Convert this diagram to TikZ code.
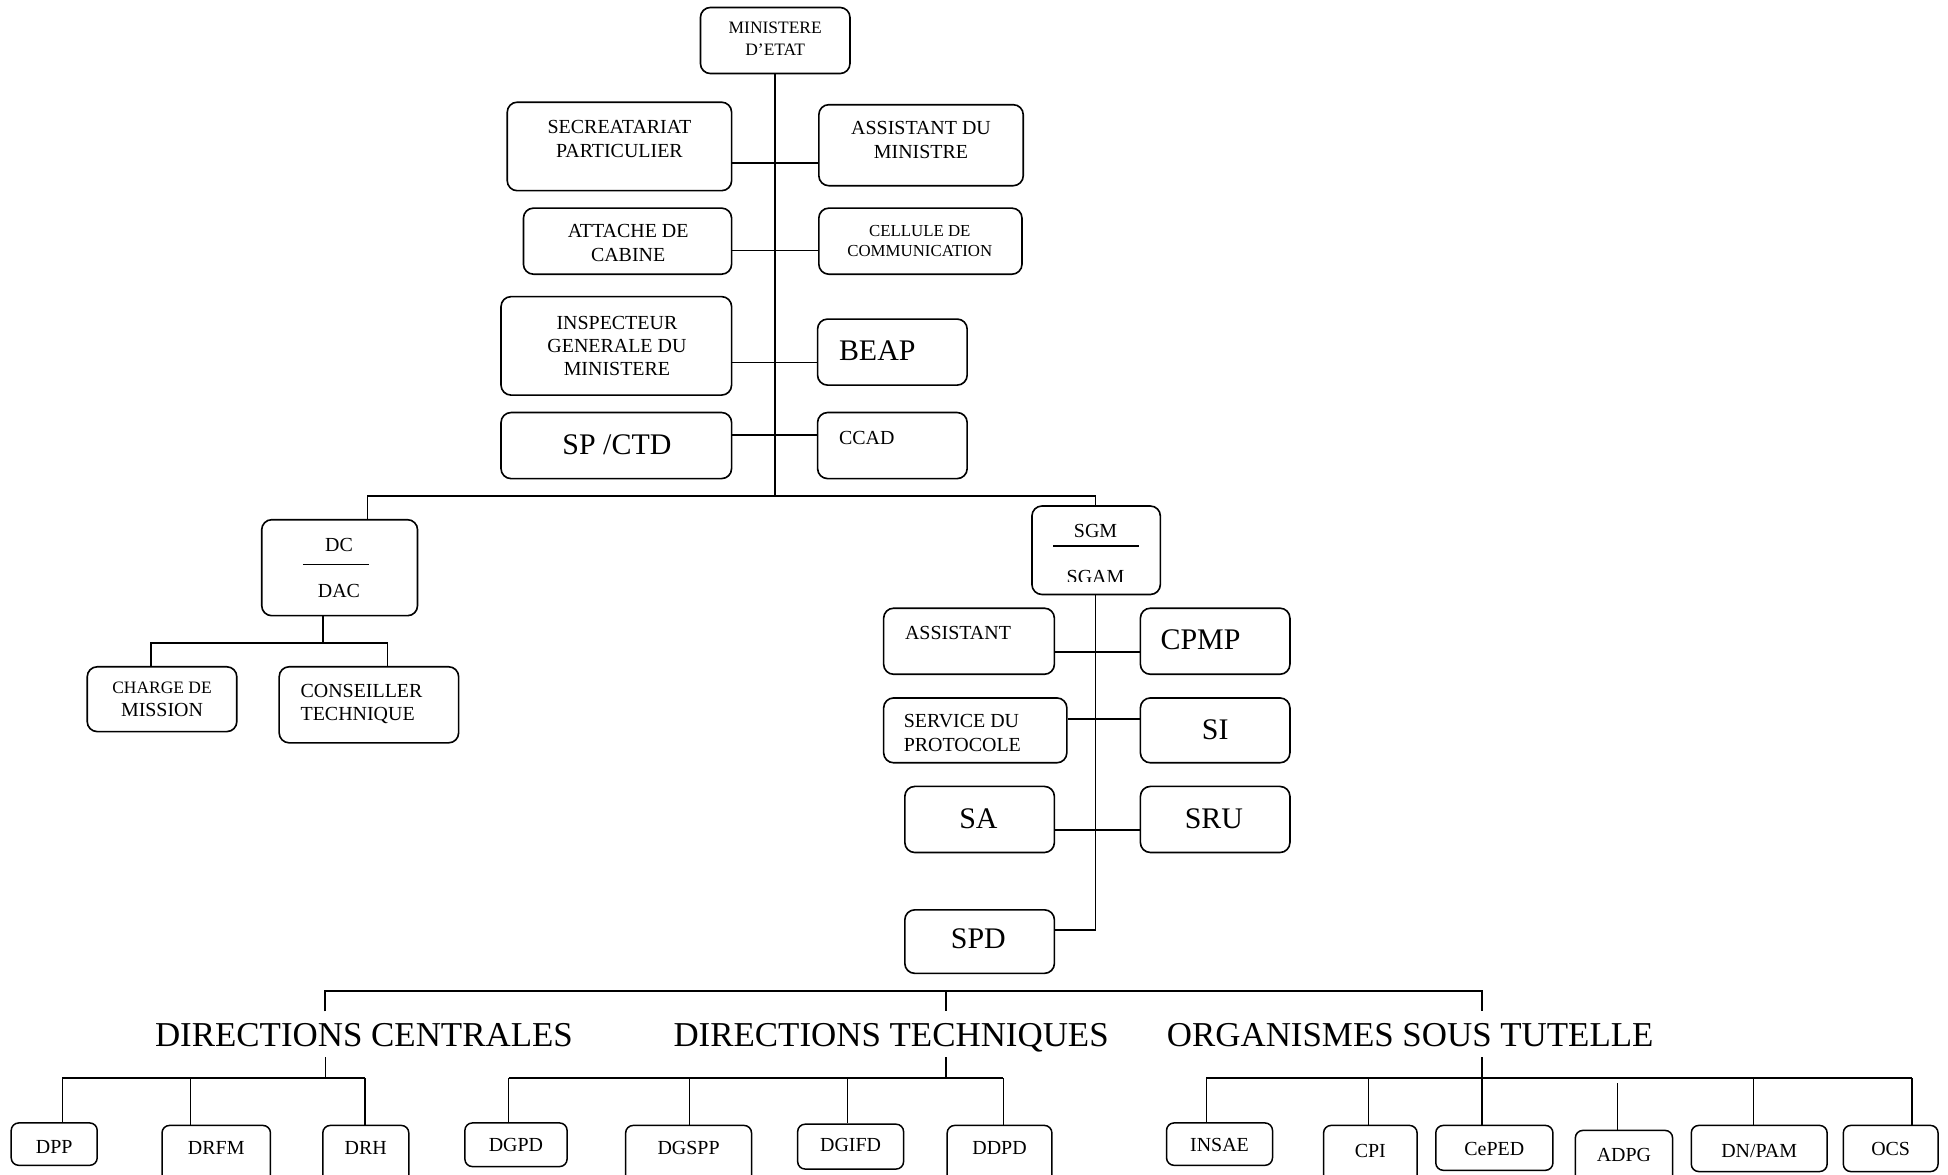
\documentclass[tikz,border=0pt]{standalone}
\usepackage{fontspec}
\setmainfont{Liberation Serif}
\newcommand\mybox[6][box]{%
  \pgfmathsetmacro\myW{#4-#3}\pgfmathsetmacro\myH{#6-#5}%
  \pgfmathsetmacro\myCX{(#3+#4)/2}\pgfmathsetmacro\myCY{(#5+#6)/2}%
  \node[#1, minimum width=\myW pt, minimum height=\myH pt] (#2) at (\myCX,\myCY) {};}
\begin{document}
\begin{tikzpicture}[x=1pt,y=-1pt,
  box/.style={draw, line width=1.3pt, rounded corners=8pt, inner sep=0pt},
  sbox/.style={box, rounded corners=6pt, line width=1.2pt},
  ln/.style={line width=1.3pt},
  tn/.style={line width=1.1pt},
  t/.style={inner sep=0pt, align=center, text depth=0pt, font=\fontsize{16}{19}\selectfont},
  tl/.style={t, align=left, anchor=west},
  big/.style={t, font=\fontsize{24}{28}\selectfont},
  head/.style={inner xsep=0pt, inner ysep=9pt, text depth=0pt, font=\fontsize{28}{32}\selectfont}]
\useasboundingbox (0,0) rectangle (1563,942);

% ---------- top level ----------
\mybox{min}{562}{682}{6}{59}
\node[t, font=\fontsize{14}{17}\selectfont] (min-t) at (622,31) {MINISTERE\\D’ETAT};

\mybox{sec}{407}{587}{82}{153}
\node[t] (sec-t) at (497,111.5) {SECREATARIAT\\PARTICULIER};
\mybox{asst}{657}{821}{84}{149}
\node[t] (asst-t) at (739,112.5) {ASSISTANT DU\\MINISTRE};

\mybox{att}{420}{587}{167}{220}
\node[t] (att-t) at (504,195) {ATTACHE DE\\CABINE};
\mybox{cel}{657}{820}{167}{220}
\node[t, font=\fontsize{13.5}{16}\selectfont] (cel-t) at (738,193) {CELLULE DE\\COMMUNICATION};

\mybox{insp}{402}{587}{238}{317}
\node[t, font=\fontsize{16}{18.5}\selectfont] (insp-t) at (495,277.5) {INSPECTEUR\\GENERALE DU\\MINISTERE};
\mybox{beap}{656}{776}{256}{309}
\node[big, anchor=west] (beap-t) at (673,281) {BEAP};

\mybox{sp}{402}{587}{331}{384}
\node[big] (sp-t) at (495,357) {SP /CTD};
\mybox{ccad}{656}{776}{331}{384}
\node[t, anchor=west] (ccad-t) at (673,351) {CCAD};

\coordinate (bus1) at (622,398);
\coordinate (r1) at (622,131);
\coordinate (r2) at (622,201);
\coordinate (r3) at (622,291);
\coordinate (r4) at (622,349);
\draw[ln] (min.south -| bus1) -- (bus1);
\draw[ln] (sec.east |- r1) -- (asst.west |- r1);
\draw[ln] (att.east |- r2) -- (cel.west |- r2);
\draw[ln] (insp.east |- r3) -- (beap.west |- r3);
\draw[ln] (sp.east |- r4) -- (ccad.west |- r4);

% ---------- DC / DAC ----------
\mybox{dc}{210}{335}{417}{494}
\node[t] (dc-t) at (272,437) {DC};
\node[t] (dac-t) at (272,474) {DAC};
\draw[ln] (243,453) -- (296,453);

\mybox{chg}{70}{190}{535}{587}
\node[t, font=\fontsize{14}{17}\selectfont] (chg-t1) at (130,552) {CHARGE DE};
\node[t] (chg-t2) at (130,569.5) {MISSION};
\mybox{cons}{224}{368}{535}{596}
\node[tl] (cons-t) at (241,563.5) {CONSEILLER\\TECHNIQUE};

\coordinate (dcj) at (259,516);
\coordinate (dcL) at (121,516);
\coordinate (dcR) at (311,516);
\draw[ln] (dcj |- dc.south) -- (dcj);
\draw[ln] (dcL |- chg.north) -- (dcL) -- (dcR) -- (dcR |- cons.north);

% ---------- SGM / SGAM ----------
\mybox{sgm}{828}{931}{406}{477}
\node[t] (sgm-t) at (879,426) {SGM};
\draw[ln] (845,438) -- (914,438);
\begin{scope}
\clip (840,448) rectangle (920,466.5);
\node[t] (sgam-t) at (879,462.5) {SGAM};
\end{scope}

\coordinate (b1L) at (295,398);
\coordinate (b1R) at (879,398);
\draw[ln] (b1L |- dc.north) -- (b1L) -- (b1R) -- (b1R |- sgm.north);

\mybox{assi}{709}{846}{488}{541}
\node[t, anchor=west] (assi-t) at (726,508) {ASSISTANT};
\mybox{cpmp}{915}{1035}{488}{541}
\node[big, anchor=west] (cpmp-t) at (931,513) {CPMP};

\mybox{serv}{709}{856}{560}{612}
\node[tl] (serv-t) at (725,588) {SERVICE DU\\PROTOCOLE};
\mybox{si}{915}{1035}{560}{612}
\node[big] (si-t) at (975,585) {SI};

\mybox{sa}{726}{846}{631}{684}
\node[big] (sa-t) at (785,657) {SA};
\mybox{sru}{915}{1035}{631}{684}
\node[big] (sru-t) at (974,657) {SRU};

\mybox{spd}{726}{846}{730}{781}
\node[big] (spd-t) at (785,753) {SPD};

\coordinate (sgt) at (879,746);
\coordinate (s1) at (879,523);
\coordinate (s2) at (879,577);
\coordinate (s3) at (879,666);
\draw[ln] (sgt |- sgm.south) -- (sgt) -- (sgt -| spd.east);
\draw[ln] (assi.east |- s1) -- (cpmp.west |- s1);
\draw[ln] (serv.east |- s2) -- (si.west |- s2);
\draw[ln] (sa.east |- s3) -- (sru.west |- s3);

% ---------- bottom level ----------
\node[head] (dcen) at (292,830) {DIRECTIONS CENTRALES};
\node[head] (dtec) at (715,830) {DIRECTIONS TECHNIQUES};
\node[head] (oset) at (1131.5,830) {ORGANISMES SOUS TUTELLE};

\coordinate (h1) at (261,795);
\coordinate (h2) at (759,795);
\coordinate (h3) at (1189,795);
\draw[ln] (h1 |- dcen.north) -- (h1) -- (h3) -- (h3 |- oset.north);
\draw[ln] (h2) -- (h2 |- dtec.north);

% Directions centrales
\mybox[sbox]{dpp}{9}{78}{901}{935}
\node[t] (dpp-t) at (43.5,920) {DPP};
\mybox[sbox]{drfm}{130}{217}{903}{950}
\node[t] (drfm-t) at (173.5,921) {DRFM};
\mybox[sbox]{drh}{259}{328}{903}{950}
\node[t] (drh-t) at (293.5,921) {DRH};

\coordinate (c0) at (261,865);
\coordinate (c1) at (50,865);
\coordinate (c2) at (153,865);
\coordinate (c3) at (293,865);
\draw[tn] (c0 |- dcen.south) -- (c0);
\draw[ln] (c1) -- (c3);
\draw[tn] (c1) -- (c1 |- dpp.north);
\draw[tn] (c2) -- (c2 |- drfm.north);
\draw[tn] (c3) -- (c3 |- drh.north);

% Directions techniques
\mybox[sbox]{dgpd}{373}{455}{901}{936}
\node[t] (dgpd-t) at (414,919) {DGPD};
\mybox[sbox]{dgspp}{502}{603}{903}{950}
\node[t] (dgspp-t) at (552.5,921) {DGSPP};
\mybox[sbox]{dgifd}{640}{725}{902}{938}
\node[t] (dgifd-t) at (682.5,919) {DGIFD};
\mybox[sbox]{ddpd}{760}{844}{903}{950}
\node[t] (ddpd-t) at (802,921) {DDPD};

\coordinate (e0) at (759,865);
\coordinate (e1) at (408,865);
\coordinate (e2) at (553,865);
\coordinate (e3) at (680,865);
\coordinate (e4) at (805,865);
\draw[tn] (e0 |- dtec.south) -- (e0);
\draw[ln] (e1) -- (e4);
\draw[tn] (e1) -- (e1 |- dgpd.north);
\draw[tn] (e2) -- (e2 |- dgspp.north);
\draw[tn] (e3) -- (e3 |- dgifd.north);
\draw[tn] (e4) -- (e4 |- ddpd.north);

% Organismes sous tutelle
\mybox[sbox]{insae}{936}{1021}{901}{935}
\node[t] (insae-t) at (978.5,919) {INSAE};
\mybox[sbox]{cpi}{1062}{1137}{903}{950}
\node[t] (cpi-t) at (1099.5,923.5) {CPI};
\mybox[sbox]{ceped}{1152}{1246}{903}{939}
\node[t] (ceped-t) at (1199,922) {CePED};
\mybox[sbox]{adpg}{1264}{1342}{907}{950}
\node[t] (adpg-t) at (1303,926.5) {ADPG};
\mybox[sbox]{dnpam}{1357}{1466}{903}{940}
\node[t] (dnpam-t) at (1411.5,923.5) {DN/PAM};
\mybox[sbox]{ocs}{1479}{1555}{903}{940}
\node[t] (ocs-t) at (1517,921.5) {OCS};

\coordinate (o1) at (968,865);
\coordinate (o2) at (1098,865);
\coordinate (o3) at (1189,865);
\coordinate (o4) at (1298,869);
\coordinate (o5) at (1407,865);
\coordinate (o6) at (1534,865);
\draw[tn] (o3 |- oset.south) -- (o3) -- (o3 |- ceped.north);
\draw[ln] (o1) -- (o6);
\draw[tn] (o1) -- (o1 |- insae.north);
\draw[tn] (o2) -- (o2 |- cpi.north);
\draw[tn] (o4) -- (o4 |- adpg.north);
\draw[tn] (o5) -- (o5 |- dnpam.north);
\draw[tn] (o6) -- (o6 |- ocs.north);
\end{tikzpicture}
\end{document}
